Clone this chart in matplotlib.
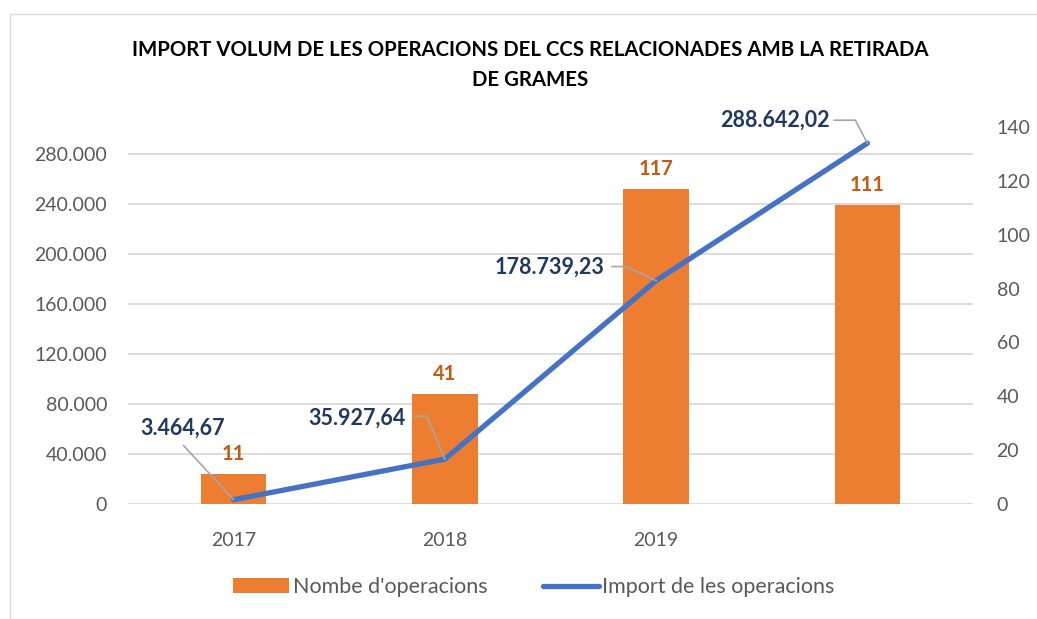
import matplotlib
matplotlib.use("Agg")
import matplotlib.pyplot as plt
from matplotlib.lines import Line2D
from matplotlib.patches import Patch
from matplotlib.transforms import IdentityTransform
import numpy as np

plt.rcParams['font.family'] = ['Lato', 'DejaVu Sans']

# dades
categories = ['2017', '2018', '2019', '']
nombre_operacions = [11, 41, 117, 111]
import_operacions = [3464.67, 35927.64, 178739.23, 288642.02]
import_labels = ['3.464,67', '35.927,64', '178.739,23', '288.642,02']
left_ticks = [0, 40000, 80000, 120000, 160000, 200000, 240000, 280000]
left_ticklabels = ['0', '40.000', '80.000', '120.000', '160.000', '200.000', '240.000', '280.000']
right_ticks = [0, 20, 40, 60, 80, 100, 120, 140]

ORANGE = '#ED7D31'
BLUE = '#4472C4'
NAVY = '#203864'
DARKORANGE = '#C55A11'
GRAY = '#595959'

W, H = 1037, 619
fig = plt.figure(figsize=(W / 100, H / 100), dpi=100)

pos = [128 / W, 1 - 504 / H, (973 - 128) / W, (504 - 127) / H]
ax = fig.add_axes(pos)            # eix esquerre (import) + graella
ax2 = ax.twinx()                   # barres (eix dret)
ax3 = fig.add_axes(pos, sharex=ax, sharey=ax)  # línia per sobre
ax3.axis('off')

x = np.arange(len(categories))
ax.set_xlim(-0.5, len(categories) - 0.5)
ax.set_ylim(0, 301600)
ax2.set_ylim(0, 140)

ax.set_yticks(left_ticks)
ax.set_yticklabels(left_ticklabels)
ax.grid(axis='y', color='#D9D9D9', linewidth=1.3)
ax.set_axisbelow(True)
ax.set_xticks(x)
ax.set_xticklabels(categories)
ax2.set_yticks(right_ticks)

for a in (ax, ax2):
    for s in a.spines.values():
        s.set_visible(False)
    a.tick_params(length=0, labelsize=14, labelcolor=GRAY)
ax.tick_params(axis='y', pad=15)
ax.tick_params(axis='x', pad=20)
ax2.tick_params(axis='y', pad=17)

bars = ax2.bar(x, nombre_operacions, width=0.31, color=ORANGE, zorder=2)
ax3.plot(x, import_operacions, color=BLUE, linewidth=3.8, solid_capstyle='round')

for xi, v in zip(x, nombre_operacions):
    ax2.annotate(str(v), (xi, v), xytext=(0, 20), textcoords='offset pixels',
                 ha='center', va='center', fontsize=14.5, fontweight='bold', color=DARKORANGE)

# etiquetes i línies guia de la sèrie d'import
label_off = [(-51, 71), (-88, 41), (-107, 13), (-92, 23)]
leader_off = [[(-50, 54)], [(-30, 43), (-18, 43)], [(-44, 14), (-30, 14)], [(-33, 23), (-12, 23)]]
for xi, v, lab, lo, ld in zip(x, import_operacions, import_labels, label_off, leader_off):
    ax3.annotate(lab, (xi, v), xytext=lo, textcoords='offset pixels',
                 ha='center', va='center', fontsize=15.5, fontweight='bold', color=NAVY)
    px, py = ax3.transData.transform((xi, v))
    pts = ld + [(0, 0)]
    xs = [px + d[0] for d in pts]
    ys = [py + d[1] for d in pts]
    fig.add_artist(Line2D(xs, ys, transform=IdentityTransform(), color='#A6A6A6', linewidth=1.2))

fig.text(0.511, 1 - 50 / H, 'IMPORT VOLUM DE LES OPERACIONS DEL CCS RELACIONADES AMB LA RETIRADA',
         ha='center', va='center', fontsize=14.7, fontweight='bold', color='black')
fig.text(0.511, 1 - 80 / H, 'DE GRAMES',
         ha='center', va='center', fontsize=14.7, fontweight='bold', color='black')

handles = [Patch(facecolor=ORANGE, edgecolor='none'),
           Line2D([0], [0], color=BLUE, linewidth=3.8, solid_capstyle='round')]
fig.legend(handles, ["Nombe d'operacions", 'Import de les operacions'],
           loc='center', bbox_to_anchor=(0.515, 1 - 587 / H), ncol=2, frameon=False,
           fontsize=15.5, labelcolor=GRAY, handlelength=2.6, handletextpad=0.15,
           columnspacing=2.6, handleheight=0.65)

# marc del gràfic
fig.add_artist(Line2D([10 / W, 10 / W], [0, 1 - 14 / H], transform=fig.transFigure, color='#D9D9D9', linewidth=1))
fig.add_artist(Line2D([10 / W, 1], [1 - 14 / H, 1 - 14 / H], transform=fig.transFigure, color='#D9D9D9', linewidth=1))

fig.savefig('out.png', dpi=100)
